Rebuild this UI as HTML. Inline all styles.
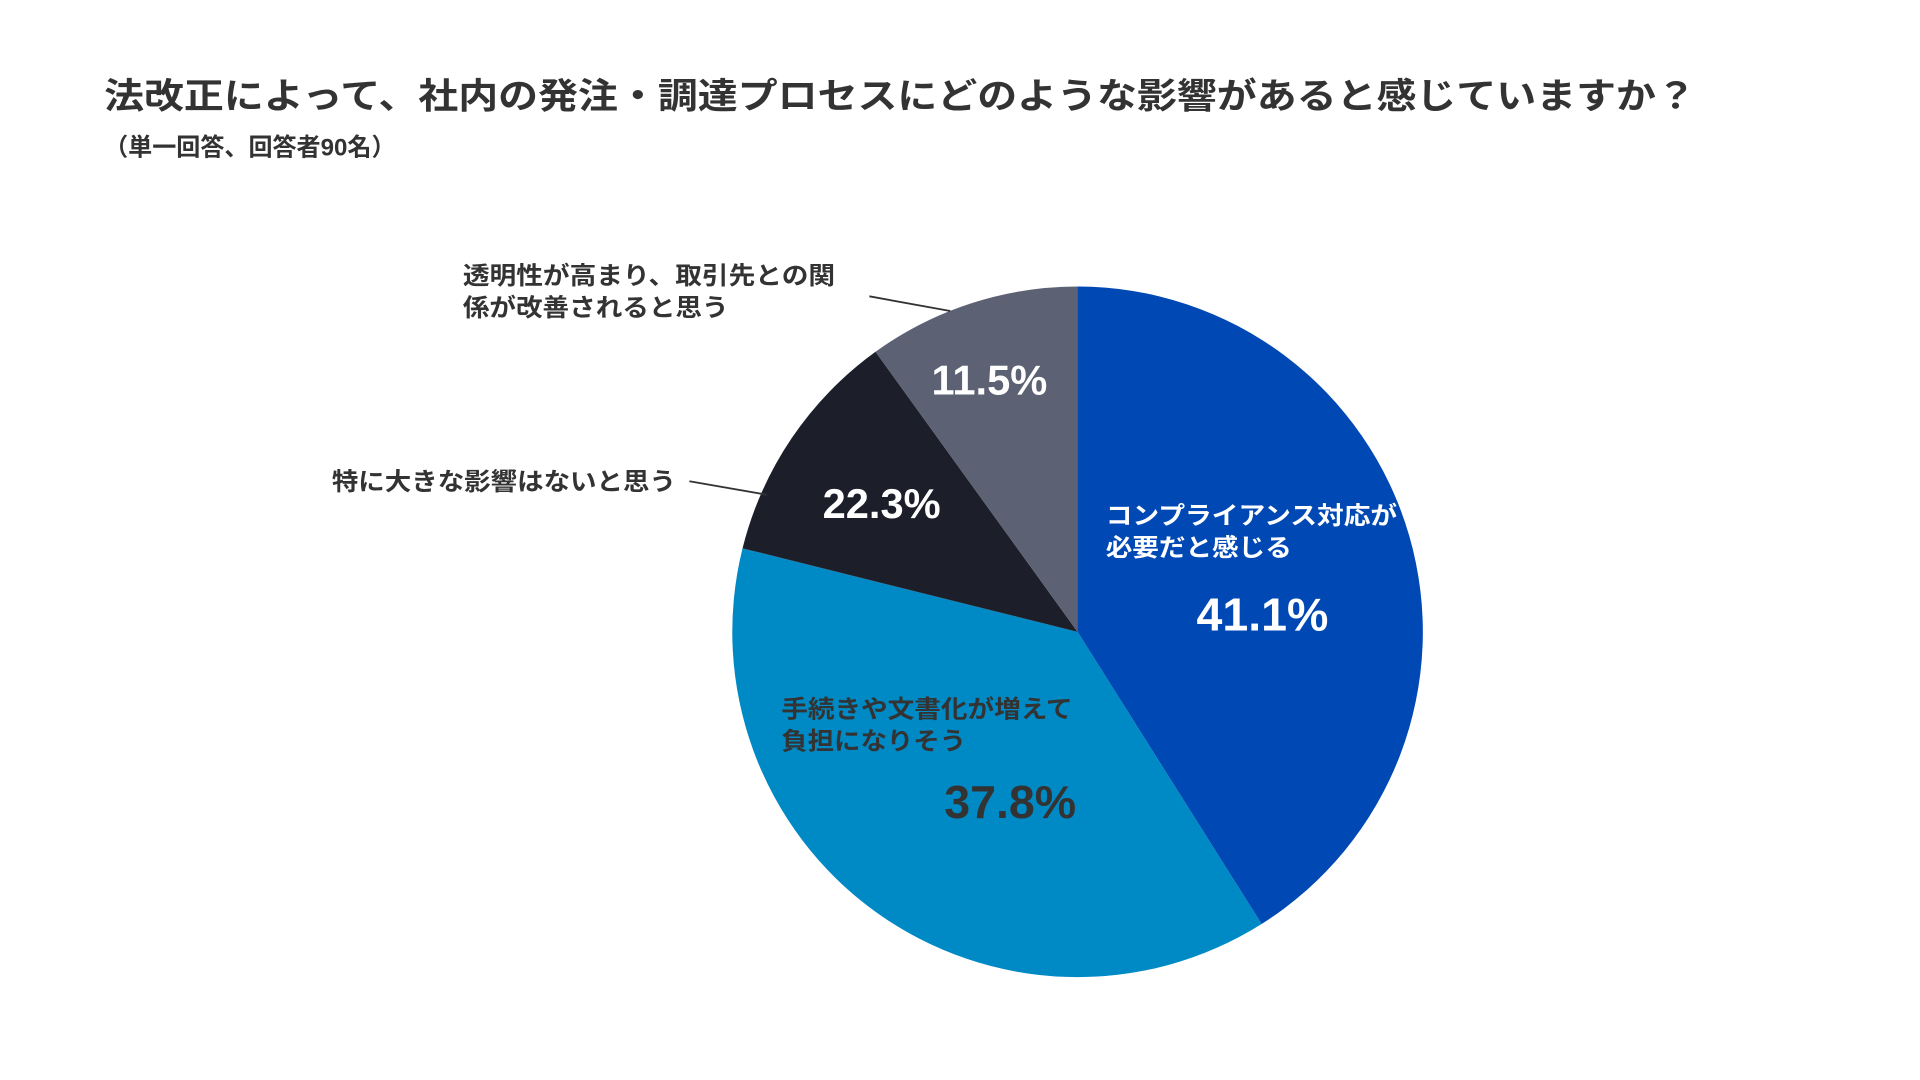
<!DOCTYPE html>
<html><head><meta charset="utf-8"><style>
html,body{margin:0;padding:0;background:#fff;}
svg{display:block;}
text{font-family:"Liberation Sans","Noto Sans CJK JP",sans-serif;font-weight:bold;}
</style></head><body>
<svg width="1920" height="1080" viewBox="0 0 1568 882" xmlns="http://www.w3.org/2000/svg">
<rect width="1568" height="882" fill="#fff"/>
<text x="85" y="88" font-size="29" fill="#333" textLength="1300" lengthAdjust="spacingAndGlyphs">法改正によって、社内の発注・調達プロセスにどのような影響があると感じていますか？</text>
<text x="85" y="127" font-size="20" fill="#333" textLength="238" lengthAdjust="spacingAndGlyphs">（単一回答、回答者90名）</text>
<path d="M880,516 L880,234 A282,282 0 0 1 1030.3,754.6 Z" fill="#0048b4"/>
<path d="M880,516 L1030.3,754.6 A282,282 0 0 1 606.4,447.8 Z" fill="#008ac5"/>
<path d="M880,516 L606.4,447.8 A282,282 0 0 1 715.0,287.3 Z" fill="#1c1e2a"/>
<path d="M880,516 L715.0,287.3 A282,282 0 0 1 880,234 Z" fill="#5c6173"/>
<line x1="710" y1="242" x2="776" y2="254" stroke="#333" stroke-width="1.5"/>
<line x1="563" y1="393" x2="626" y2="404" stroke="#333" stroke-width="1.5"/>
<text x="378" y="232" font-size="20" fill="#333" textLength="304" lengthAdjust="spacingAndGlyphs">透明性が高まり、取引先との関</text>
<text x="378" y="258" font-size="20" fill="#333" textLength="217" lengthAdjust="spacingAndGlyphs">係が改善されると思う</text>
<text x="271" y="400" font-size="20" fill="#333" textLength="281" lengthAdjust="spacingAndGlyphs">特に大きな影響はないと思う</text>
<text x="903" y="428" font-size="20" fill="#fff" textLength="238" lengthAdjust="spacingAndGlyphs">コンプライアンス対応が</text>
<text x="903" y="454" font-size="20" fill="#fff" textLength="152" lengthAdjust="spacingAndGlyphs">必要だと感じる</text>
<text x="638" y="586" font-size="20" fill="#333" textLength="238" lengthAdjust="spacingAndGlyphs">手続きや文書化が増えて</text>
<text x="638" y="612" font-size="20" fill="#333" textLength="151" lengthAdjust="spacingAndGlyphs">負担になりそう</text>
<text x="808" y="322" font-size="34" fill="#fff" text-anchor="middle">11.5%</text>
<text x="720" y="423" font-size="34" fill="#fff" text-anchor="middle">22.3%</text>
<text x="1031" y="515" font-size="38" fill="#fff" text-anchor="middle">41.1%</text>
<text x="825" y="668" font-size="38" fill="#333" text-anchor="middle">37.8%</text>
</svg>
</body></html>
